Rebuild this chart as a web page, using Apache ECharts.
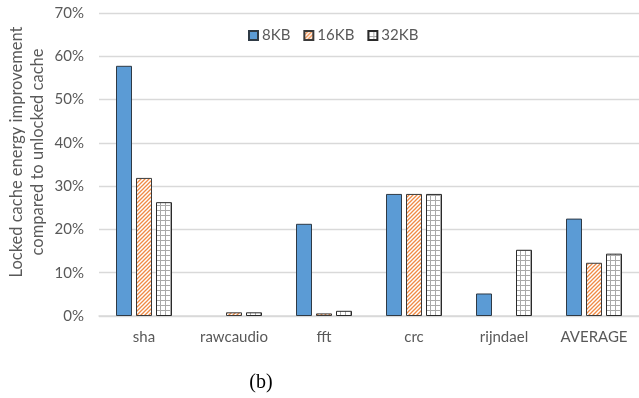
<!DOCTYPE html>
<html>
<head>
<meta charset="utf-8">
<script src="https://cdn.jsdelivr.net/npm/echarts@6/dist/echarts.min.js"></script>
<style>
  html, body { margin: 0; padding: 0; background: #fff; }
  #chart { width: 639px; height: 398px; }
</style>
</head>
<body>
<div id="chart"></div>
<script>
// Benchmarks on the category axis
const categories = ['sha', 'rawcaudio', 'fft', 'crc', 'rijndael', 'AVERAGE'];
// Energy improvement (%) for each locked cache size
const seriesNames = ['8KB', '16KB', '32KB'];
const values8KB = [57.8, 0, 21.3, 28.2, 5.2, 22.5];
const values16KB = [31.9, 0.85, 0.6, 28.2, 0, 12.3];
const values32KB = [26.3, 0.85, 1.2, 28.2, 15.3, 14.4];
// Y axis range and ticks (%)
const yMin = 0, yMax = 70, yStep = 10;

const FONT = 'Lato, "Open Sans", sans-serif';
const TEXT = '#595959';

// Diagonal orange hatch fill
function hatchPattern() {
  const c = document.createElement('canvas');
  c.width = 4; c.height = 4;
  const g = c.getContext('2d');
  g.fillStyle = '#ffffff';
  g.fillRect(0, 0, 4, 4);
  g.strokeStyle = '#ef8a45';
  g.lineWidth = 1.3;
  g.beginPath();
  g.moveTo(-1, 5); g.lineTo(5, -1);
  g.moveTo(-1, 1); g.lineTo(1, -1);
  g.moveTo(3, 5); g.lineTo(5, 3);
  g.stroke();
  return { image: c, repeat: 'repeat' };
}

// Small square grid fill
function gridPattern() {
  const c = document.createElement('canvas');
  c.width = 5; c.height = 5;
  const g = c.getContext('2d');
  g.fillStyle = '#ffffff';
  g.fillRect(0, 0, 5, 5);
  g.fillStyle = '#a9a9a9';
  g.fillRect(0, 0, 5, 1);
  g.fillRect(0, 0, 1, 5);
  return { image: c, repeat: 'repeat' };
}

// Zero-height bars are left without an outline
function barData(values) {
  return values.map(v => v === 0 ? { value: v, itemStyle: { borderWidth: 0 } } : v);
}

const chart = echarts.init(document.getElementById('chart'), null, { renderer: 'canvas' });

const barBase = {
  type: 'bar',
  barWidth: 16,
  barGap: '25%'
};

chart.setOption({
  animation: false,
  backgroundColor: '#ffffff',
  grid: { left: 99, top: 13, width: 543, height: 303, containLabel: false },
  legend: {
    left: 243,
    top: 23,
    itemWidth: 9,
    itemHeight: 9,
    itemGap: 13,
    icon: 'rect',
    textStyle: { color: TEXT, fontFamily: FONT, fontSize: 15, padding: [0, 0, 0, -1] },
    data: seriesNames
  },
  xAxis: {
    type: 'category',
    data: categories,
    axisLine: { lineStyle: { color: '#d9d9d9', width: 1.5 } },
    axisTick: { show: false },
    axisLabel: { color: TEXT, fontFamily: FONT, fontSize: 15, margin: 14 }
  },
  yAxis: {
    type: 'value',
    min: yMin, max: yMax, interval: yStep,
    axisLine: { show: false },
    axisTick: { show: false },
    axisLabel: { color: TEXT, fontFamily: FONT, fontSize: 15, margin: 15, formatter: '{value}%' },
    splitLine: { lineStyle: { color: '#d9d9d9', width: 1.3 } }
  },
  graphic: [
    {
      type: 'text',
      x: 27, y: 152,
      rotation: Math.PI / 2,
      style: {
        text: 'Locked cache energy improvement\ncompared to unlocked cache',
        fill: TEXT,
        font: '16.5px ' + FONT,
        align: 'center',
        verticalAlign: 'middle',
        lineHeight: 21
      }
    },
    {
      type: 'text',
      x: 261, y: 383,
      style: {
        text: '(b)',
        fill: '#000000',
        font: '20px "Liberation Serif", "DejaVu Serif", serif',
        align: 'center',
        verticalAlign: 'middle'
      }
    }
  ],
  series: [
    Object.assign({}, barBase, {
      name: seriesNames[0],
      data: barData(values8KB),
      itemStyle: { color: '#5b9bd5', borderColor: '#2f3a45', borderWidth: 1 }
    }),
    Object.assign({}, barBase, {
      name: seriesNames[1],
      data: barData(values16KB),
      itemStyle: { color: hatchPattern(), borderColor: '#3a3a3a', borderWidth: 1 }
    }),
    Object.assign({}, barBase, {
      name: seriesNames[2],
      data: barData(values32KB),
      itemStyle: { color: gridPattern(), borderColor: '#2a2a2a', borderWidth: 1 }
    })
  ]
});
</script>
</body>
</html>
